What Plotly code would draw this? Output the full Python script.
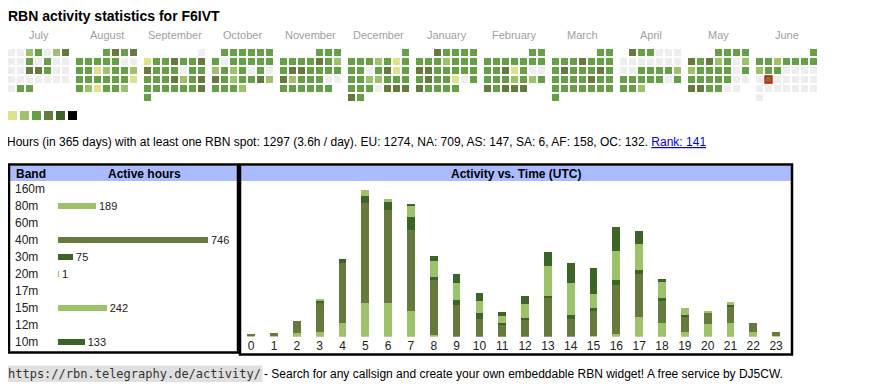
import datetime as dt
import plotly.graph_objects as go

# page has an 8px body margin; figure coordinates are page coordinates minus 8
OFF = 8
W, H = 854, 374
FONT = "Liberation Sans, Arial, sans-serif"
MONO = "DejaVu Sans Mono, Liberation Mono, monospace"


def px(x):
    return (x - OFF) / W


def py(y):
    return 1 - (y - OFF) / H


TITLE = "RBN activity statistics for F6IVT"
MONTH_NAMES = ["July", "August", "September", "October", "November", "December",
               "January", "February", "March", "April", "May", "June"]
MONTH_YM = [(2024, 7), (2024, 8), (2024, 9), (2024, 10), (2024, 11), (2024, 12),
            (2025, 1), (2025, 2), (2025, 3), (2025, 4), (2025, 5), (2025, 6)]

# activity level per day (0 = none, 1..5 = increasing activity)
JUL = [0, 0, 2, 3, 0, 2, 4, 0, 0, 3, 0, 3, 0, 0, 0, 0, 4, 4, 3, 0, 0, 0, 0, 0, 0, 0, 0, 0, 0, 3, 3]
AUG = [3, 4, 3, 4, 3, 3, 3, 3, 3, 0, 0, 3, 3, 1, 2, 3, 3, 2, 3, 3, 3, 3, 3, 3, 1, 3, 2, 1, 3, 3, 2]
SEP = [0, 1, 3, 3, 4, 3, 3, 4, 4, 3, 3, 3, 0, 3, 3, 3, 3, 3, 4, 2, 3, 4, 3, 3, 3, 3, 3, 3, 4, 3]
OCT = [3, 3, 3, 3, 3, 3, 3, 0, 3, 3, 3, 3, 3, 2, 3, 2, 3, 0, 3, 0, 4, 3, 2, 3, 3, 4, 2, 3, 3, 3, 2]
NOV = [3, 3, 3, 3, 3, 3, 3, 4, 3, 2, 3, 4, 4, 3, 3, 3, 3, 4, 2, 3, 3, 3, 0, 0, 3, 3, 3, 3, 3, 3]
DEC = [3, 3, 3, 3, 2, 3, 1, 3, 3, 3, 0, 3, 4, 1, 3, 3, 3, 2, 2, 3, 3, 3, 3, 3, 3, 0, 4, 4, 4, 4, 3]
JAN = [4, 3, 3, 3, 3, 3, 3, 3, 2, 3, 3, 3, 4, 4, 3, 3, 3, 3, 3, 3, 4, 3, 3, 1, 0, 3, 4, 3, 3, 3, 3]
FEB = [3, 3, 3, 3, 3, 3, 3, 3, 3, 3, 3, 4, 1, 3, 0, 0, 3, 3, 3, 2, 3, 2, 3, 4, 3, 4, 4, 4]
MAR = [3, 3, 3, 3, 3, 4, 3, 3, 3, 3, 4, 3, 3, 3, 4, 3, 3, 3, 3, 3, 4, 3, 3, 3, 3, 3, 3, 3, 3, 3, 3]
APR = [4, 3, 3, 0, 0, 0, 0, 0, 0, 0, 0, 0, 0, 0, 0, 3, 3, 3, 3, 2, 3, 3, 3, 3, 3, 0, 3, 3, 3, 2]
MAY = [3, 3, 3, 3, 4, 3, 4, 2, 3, 0, 2, 2, 3, 3, 3, 3, 0, 3, 3, 3, 3, 3, 3, 0, 0, 4, 4, 3, 3, 0, 0]
JUN = [3, 3, 3, 2, 3, 3, 3, 3, 2, 3, 3, 0, 0, 0, 0, 0, 4, 0, 0, 0, 0, 0, 0, 0, 0, 0, 0, 0, 0, 0]
TODAY = dt.date(2025, 6, 17)

LEVEL_COLORS = ["#eeeeee", "#dce38b", "#9ec26a", "#66a046", "#657a3c", "#3b6527", "#000000"]
LEGEND_LEVELS = [1, 2, 3, 4, 5, 6]

STATS_TEXT = ("Hours (in 365 days) with at least one RBN spot: 1297 (3.6h / day). "
              "EU: 1274, NA: 709, AS: 147, SA: 6, AF: 158, OC: 132. ")
RANK_TEXT = "Rank: 141"
FOOT_URL = "https://rbn.telegraphy.de/activity/"
FOOT_TEXT = "- Search for any callsign and create your own embeddable RBN widget! A free service by DJ5CW."

BANDS = ["160m", "80m", "60m", "40m", "30m", "20m", "17m", "15m", "12m", "10m"]
BAND_HOURS = [None, 189, None, 746, 75, 1, None, 242, None, 133]

LIGHT, OLIVE, DARK = "#9ec26a", "#657a3c", "#3b6527"
BAND_COLORS = [LIGHT, LIGHT, OLIVE, OLIVE, DARK, LIGHT, LIGHT, LIGHT, DARK, DARK]

HOURS = list(range(24))
H80 = [1, 1, 4, 5, 13, 33, 33, 25, 2, 0, 0, 0, 0, 0, 0, 1, 3, 19, 13, 5, 12, 13, 5, 1]
H40 = [2, 3, 11, 29, 59, 98, 91, 80, 54, 31, 17, 11, 16, 38, 17, 24, 48, 42, 22, 14, 11, 16, 8, 4]
H30 = [0, 0, 0, 1, 4, 7, 8, 12, 3, 5, 6, 2, 2, 2, 4, 3, 5, 4, 3, 2, 0, 2, 0, 0]
H20 = [0, 0, 0, 0, 0, 0, 0, 0, 0, 1, 0, 0, 0, 0, 0, 0, 0, 0, 0, 0, 0, 0, 0, 0]
H15 = [0, 0, 0, 1, 0, 6, 3, 11, 15, 16, 12, 7, 14, 29, 32, 14, 28, 26, 16, 7, 2, 3, 0, 0]
H10 = [0, 0, 0, 0, 0, 0, 0, 2, 5, 8, 8, 4, 8, 14, 19, 25, 24, 13, 3, 0, 0, 0, 0, 0]

MONTH_LEVELS = [JUL, AUG, SEP, OCT, NOV, DEC, JAN, FEB, MAR, APR, MAY, JUN]

# ---------- calendar geometry (in cell units) ----------
CELL = 9.0           # px pitch of cells
MONTH_W = 68.0       # px pitch of month blocks
X0, Y0 = 11.5, 52.5  # page px centre of first cell

cx, cy, cc, tx, ty, tc = [], [], [], [], [], []
for m, ((yy, mm), levels) in enumerate(zip(MONTH_YM, MONTH_LEVELS)):
    first = dt.date(yy, mm, 1).weekday()
    for d, lv in enumerate(levels):
        pos = d + first
        xu = m * MONTH_W / CELL + pos % 7
        yu = pos // 7
        if dt.date(yy, mm, d + 1) == TODAY:
            tx.append(xu); ty.append(yu); tc.append(LEVEL_COLORS[lv])
        else:
            cx.append(xu); cy.append(yu); cc.append(LEVEL_COLORS[lv])

fig = go.Figure()

fig.add_trace(go.Scatter(x=cx, y=cy, mode="markers", xaxis="x3", yaxis="y3",
                         marker=dict(symbol="square", size=7, color=cc, line=dict(width=0)),
                         hoverinfo="skip", showlegend=False))
fig.add_trace(go.Scatter(x=tx, y=ty, mode="markers", xaxis="x3", yaxis="y3",
                         marker=dict(symbol="square", size=7, color=tc, line=dict(width=1.3, color="#ee0000")),
                         hoverinfo="skip", showlegend=False))
# legend swatches
lgx = [(12.5 + 12 * k - X0) / CELL for k in range(len(LEGEND_LEVELS))]
lgy = [(115.5 - Y0) / CELL] * len(LEGEND_LEVELS)
fig.add_trace(go.Scatter(x=lgx, y=lgy, mode="markers", xaxis="x3", yaxis="y3",
                         marker=dict(symbol="square", size=9, color=[LEVEL_COLORS[l] for l in LEGEND_LEVELS],
                                     line=dict(width=0)),
                         hoverinfo="skip", showlegend=False))

# band table bars
fig.add_trace(go.Bar(y=BANDS, x=BAND_HOURS, orientation="h", xaxis="x", yaxis="y",
                     marker=dict(color=BAND_COLORS, line=dict(width=0)), width=0.41,
                     text=["" if v is None else str(v) for v in BAND_HOURS],
                     textposition="outside", constraintext="none", cliponaxis=False,
                     textfont=dict(size=11, color="#222222", family=FONT),
                     hoverinfo="skip", showlegend=False))

# activity vs time stacked bars
for name, vals, col in [("80m", H80, LIGHT), ("40m", H40, OLIVE), ("30m", H30, DARK),
                        ("20m", H20, LIGHT), ("15m", H15, LIGHT), ("10m", H10, DARK)]:
    fig.add_trace(go.Bar(x=HOURS, y=vals, name=name, xaxis="x2", yaxis="y2",
                         marker=dict(color=col, line=dict(width=0)), width=0.34,
                         hoverinfo="skip", showlegend=False))

ann = []
ann.append(dict(text="<b>" + TITLE + "</b>", x=px(6), y=py(16), xref="paper", yref="paper",
                xanchor="left", yanchor="middle", showarrow=False,
                font=dict(size=14, color="#000", family=FONT)))
for m, name in enumerate(MONTH_NAMES):
    ann.append(dict(text=name, x=m * MONTH_W / CELL + 3, y=(35 - Y0) / CELL, xref="x3", yref="y3",
                    xanchor="center", yanchor="middle", showarrow=False,
                    font=dict(size=11, color="#a0a0a0", family=FONT)))
ann.append(dict(text=STATS_TEXT + '<span style="color:#0000ee;text-decoration:underline">' + RANK_TEXT + "</span>",
                x=px(5), y=py(142), xref="paper", yref="paper", xanchor="left", yanchor="middle",
                showarrow=False, font=dict(size=12, color="#000", family=FONT)))
ann.append(dict(text=FOOT_URL, x=px(6), y=py(374), xref="paper", yref="paper", xanchor="left",
                yanchor="middle", showarrow=False, bgcolor="#e0e0e0", borderpad=1,
                font=dict(size=12, color="#333", family=MONO)))
ann.append(dict(text=FOOT_TEXT, x=px(262), y=py(374), xref="paper", yref="paper", xanchor="left",
                yanchor="middle", showarrow=False, font=dict(size=12, color="#000", family=FONT)))
# table headers
ann.append(dict(text="<b>Band</b>", x=px(14), y=py(173.5), xref="paper", yref="paper", xanchor="left",
                yanchor="middle", showarrow=False, font=dict(size=12, color="#000", family=FONT)))
ann.append(dict(text="<b>Active hours</b>", x=px(144.5), y=py(173.5), xref="paper", yref="paper",
                xanchor="center", yanchor="middle", showarrow=False, font=dict(size=12, color="#000", family=FONT)))
ann.append(dict(text="<b>Activity vs. Time (UTC)</b>", x=px(516), y=py(173.5), xref="paper", yref="paper",
                xanchor="center", yanchor="middle", showarrow=False, font=dict(size=12, color="#000", family=FONT)))
for b in BANDS:
    ann.append(dict(text=b, x=px(13), y=b, xref="paper", yref="y", xanchor="left", yanchor="middle",
                    showarrow=False, font=dict(size=12, color="#222", family=FONT)))

shapes = [
    dict(type="rect", xref="paper", yref="paper", x0=px(10), x1=px(237), y0=py(181), y1=py(166),
         fillcolor="#aabbff", line=dict(width=0), layer="below"),
    dict(type="rect", xref="paper", yref="paper", x0=px(241), x1=px(791), y0=py(181), y1=py(166),
         fillcolor="#aabbff", line=dict(width=0), layer="below"),
    dict(type="rect", xref="paper", yref="paper", x0=px(9), x1=px(238), y0=py(352.5), y1=py(164.5),
         line=dict(width=2.5, color="#000"), fillcolor="rgba(0,0,0,0)"),
    dict(type="rect", xref="paper", yref="paper", x0=px(240), x1=px(792), y0=py(354.5), y1=py(164.5),
         line=dict(width=2.5, color="#000"), fillcolor="rgba(0,0,0,0)"),
]

fig.update_layout(
    width=W, height=H, autosize=False,
    margin=dict(l=0, r=0, t=0, b=0, pad=0),
    paper_bgcolor="#ffffff", plot_bgcolor="rgba(0,0,0,0)",
    barmode="stack", showlegend=False,
    annotations=ann, shapes=shapes,
    xaxis=dict(domain=[px(58), px(230)], range=[0, 855.7], visible=False, anchor="y", fixedrange=True),
    yaxis=dict(domain=[py(350.5), py(180.5)], type="category", categoryorder="array", categoryarray=BANDS,
               range=[9.5, -0.5], visible=False, anchor="x", fixedrange=True),
    xaxis2=dict(domain=[px(239.8), px(787.5)], range=[-0.5, 23.5], anchor="y2", tickmode="array",
                tickvals=HOURS, ticktext=[str(h) for h in HOURS], showgrid=False, zeroline=False,
                showline=False, ticks="", tickfont=dict(size=12, color="#222", family=FONT), fixedrange=True),
    yaxis2=dict(domain=[py(336.7), py(181)], range=[0, 152.6], visible=False, anchor="x2", fixedrange=True),
    xaxis3=dict(domain=[0, 1], range=[(OFF - X0) / CELL, (OFF + W - X0) / CELL], visible=False,
                anchor="y3", fixedrange=True),
    yaxis3=dict(domain=[0, 1], range=[(OFF + H - Y0) / CELL, (OFF - Y0) / CELL], visible=False,
                anchor="x3", fixedrange=True),
)

fig.write_html("out.html", config={"displayModeBar": False})
